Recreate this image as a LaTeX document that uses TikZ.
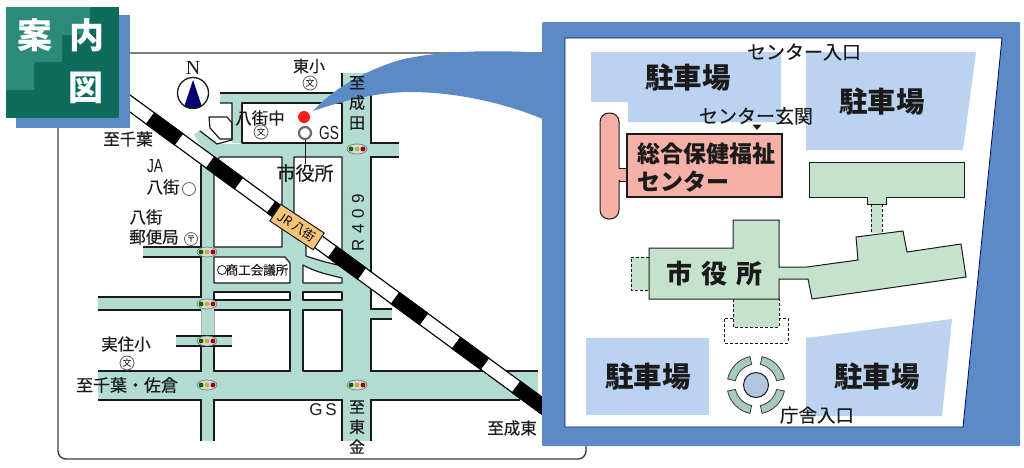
\documentclass[tikz,border=0pt]{standalone}
\usepackage{fontspec}
\usetikzlibrary{shapes.geometric}
\setmainfont{Noto Sans CJK JP}
\newfontfamily\medf[FakeBold=0.3]{Noto Sans CJK JP}
\newfontfamily\serifN{Liberation Serif}
\newfontfamily\sansL{Liberation Sans}
\definecolor{road}{HTML}{B2DCD2}
\definecolor{frameblue}{HTML}{5B8AC6}
\definecolor{park}{HTML}{BCD2F1}
\definecolor{bldg}{HTML}{C5E3CC}
\definecolor{pinkb}{HTML}{F5B0A8}
\definecolor{tdark}{HTML}{0F6B5C}
\definecolor{tlight}{HTML}{2B8A79}
\definecolor{ink}{HTML}{1A1A1A}
\definecolor{labelc}{HTML}{F5C27A}
\tikzset{
  rdedge/.style={draw=ink,line width=1.2pt},
  block/.style={draw=ink,line width=1.2pt,fill=white,line join=round},
  bld/.style={draw=ink,line width=1pt,fill=bldg,line join=miter},
  dashln/.style={draw=ink,line width=1pt,dash pattern=on 3pt off 2pt},
  t/.style={inner sep=0pt,text=ink,font=\medf\fontsize{#1}{#1}\selectfont},
  tb/.style={inner sep=0pt,text=ink,font=\fontsize{#1}{#1}\selectfont\bfseries},
  vt/.style={inner sep=0pt,text=ink,align=center,font=\medf\fontsize{#1}{20}\selectfont},
  schoolmark/.style={circle,draw=ink!70,line width=.8pt,minimum size=14pt,inner sep=0pt,font=\fontsize{9}{9}\selectfont},
}
\begin{document}
\begin{tikzpicture}[x=1pt,y=-1pt]
\useasboundingbox (0,0) rectangle (1024,467);
\fill[white] (0,0) rectangle (1024,467);
% map border
\draw[draw=ink!85,line width=1.4pt,rounded corners=8pt] (58,53) rectangle (586,459);
% roads
\fill[road] (220,93) rectangle (342,103);
\fill[road] (232,103) rectangle (242,143);
\fill[road] (342,73) rectangle (371,441);
\fill[road] (194,135) -- (200,130) -- (217,144) -- (342,143) -- (342,160) -- (214,165) -- cycle;
\fill[road] (371,143) rectangle (399,157);
\fill[road] (201,157) rectangle (342,400);
\fill[road] (201,400) rectangle (214,441);
\fill[road] (371,309) rectangle (392,319);
\fill[road] (98,371) rectangle (538,400);
\fill[road] (98,297) rectangle (201,310);
\fill[road] (143,247) rectangle (201,257);
% blocks
\draw[block] (214,170) -- (214,163) -- (220,157) -- (282,157) -- (282,247) -- (214,247) -- cycle;
\draw[block] (294,157) -- (342,157) -- (342,262) -- (294,225) -- cycle;
\draw[block] (242,103) rectangle (342,143);
\draw[block] (214,257) -- (285,257) -- (290,263) -- (290,283) -- (214,283) -- cycle;
\draw[block] (214,292) rectangle (290,300);
\draw[block] (303,292) rectangle (342,300);
\draw[block] (303,310) rectangle (342,371);
\draw[block] (303,265) .. controls (315,272) and (330,275) .. (342,278) -- (342,283) -- (303,283) -- cycle;
\draw[block] (306,235) -- (306,256) .. controls (318,260) and (328,263) .. (338,265) -- (345,260) -- cycle;
\draw[block] (209,117) -- (227,117) -- (232,123) -- (232,139) -- (220,139) -- (210,128) -- cycle;
% the block south of the small cross road
\fill[white] (214,310) rectangle (290,371);
\draw[ink!35,line width=1pt] (214,310) -- (214,336);
\draw[rdedge] (214,346) -- (214,371) -- (290,371) -- (290,310) -- (214,310);
\fill[road] (176,336) rectangle (232,346);
% road edges
\draw[rdedge] (220,93) -- (342,93);
\draw[rdedge] (342,73) -- (342,93);
\draw[rdedge] (220,103) -- (232,103) -- (232,140) -- (217,144) -- (200,131);
\draw[rdedge] (371,73) -- (371,143) -- (399,143);
\draw[rdedge] (399,157) -- (371,157) -- (371,309) -- (392,309);
\draw[rdedge] (392,319) -- (371,319) -- (371,371) -- (538,371);
\draw[rdedge] (520,400) -- (371,400) -- (371,441);
\draw[rdedge] (342,441) -- (342,400) -- (214,400) -- (214,441);
\draw[rdedge] (201,441) -- (201,400) -- (98,400);
\draw[rdedge] (98,371) -- (201,371) -- (201,346);
\draw[ink!35,line width=1pt] (201,336) -- (201,310);
\draw[rdedge] (201,310) -- (98,310);
\draw[rdedge] (98,297) -- (201,297) -- (201,257) -- (143,257);
\draw[rdedge] (143,247) -- (201,247) -- (201,165);
\draw[rdedge] (176,336) -- (232,336);
\draw[rdedge] (176,346) -- (232,346);
% rail
\draw[black,line width=15pt] (110,{103.5+0.7337*(110-130)}) -- (560,{103.5+0.7337*(560-130)});
\draw[white,line width=12.4pt] (110,{103.5+0.7337*(110-130)}) -- (560,{103.5+0.7337*(560-130)});
\foreach \a/\b in {150/179,210/239,271/300,332/362,395/424,456/485,516/560}
  \draw[black,line width=15pt] (\a,{103.5+0.7337*(\a-130)}) -- (\b,{103.5+0.7337*(\b-130)});
\node[draw=ink,line width=1pt,fill=labelc,minimum width=52pt,minimum height=20pt,inner sep=0pt,rotate=-33.5,font=\fontsize{12.5}{12.5}\selectfont] (jr) at (297,227) {JR 八街};
% signals
\foreach \x/\y [count=\i] in {357/149,207/252,207/304,207/341,207/385,357/385}{
  \node[ellipse,draw=ink!60,fill=white!85!black,line width=.7pt,minimum width=20pt,minimum height=10pt,inner sep=0pt] (sig\i) at (\x,\y) {};
  \fill[green!40!black] (\x-6,\y) circle[radius=2.4pt];
  \fill[yellow!70!black] (\x,\y) circle[radius=2.4pt];
  \fill[red!60!black] (\x+6,\y) circle[radius=2.4pt];
}
% compass
\node[inner sep=0pt,text=ink,font=\serifN\fontsize{20}{20}\selectfont] (north) at (193,68) {N};
\begin{scope}
\clip (193,93) circle[radius=15.5pt];
\fill[blue!45!black] (193,80) -- (203,110) -- (183,110) -- cycle;
\end{scope}
\draw[ink,line width=1.3pt] (193,93) circle[radius=15.5pt];
% frame and callout
\fill[frameblue] (313,111) .. controls (330,92) and (360,72) .. (400,60) .. controls (440,50) and (500,50) .. (545,53) -- (545,120) .. controls (510,105) and (460,92) .. (410,92) .. controls (380,92) and (345,100) .. cycle;
\fill[frameblue,rounded corners=1pt] (542,22) rectangle (1020,446);
\draw[fill=white,draw=blue!40!black,line width=.8pt] (565,38) -- (1002,38) -- (963,427) -- (565,427) -- cycle;
% parking
\fill[park] (591,52) -- (781,52) -- (781,122) -- (628,122) -- (628,102) -- (591,102) -- cycle;
\fill[park] (806,52) -- (976,52) -- (963,150) -- (806,150) -- cycle;
\fill[park] (586,338) rectangle (709,415);
\fill[park] (806,338) -- (952,319) -- (942,416) -- (806,416) -- cycle;
% welfare centre
\draw[fill=pinkb,draw=ink,line width=1pt,rounded corners=9pt] (600,113) rectangle (619,219);
\draw[fill=pinkb,draw=ink,line width=1pt] (619,168) rectangle (628,181);
\fill[pinkb] (617,168.6) rectangle (628,180.4);
\draw[fill=pinkb,draw=ink,line width=1.2pt] (627,134) rectangle (782,197);
\fill[ink] (752.5,124.5) -- (761.5,124.5) -- (757,130) -- cycle;
% city hall buildings
\fill[bldg] (871,204) rectangle (882,233);
\draw[dashln] (871,204) -- (871,233) (882,204) -- (882,233);
\draw[bld] (809,162) -- (964,162) -- (964,197) -- (886,197) -- (886,204) -- (867,204) -- (867,197) -- (809,197) -- cycle;
\draw[dashln,fill=bldg] (649,257) -- (631,257) -- (631,290) -- (649,290);
\draw[dashln,fill=bldg] (733,299) -- (733,327) -- (779,327) -- (779,299);
\draw[bld] (649,248) -- (733,248) -- (733,220) -- (779,220) -- (779,267) -- (807,267) -- (858,260) -- (856,237) -- (903,231) -- (907,252) -- (961,244) -- (966,277) -- (812,299) -- (808,279) -- (779,279) -- (779,299) -- (649,299) -- cycle;
\draw[dashln] (733,318) -- (724,318) -- (724,343) -- (788,343) -- (788,318) -- (779,318);
% roundabout
\begin{scope}[shift={(756,385)}]
\foreach \a in {12,102,192,282}
  \draw[fill=road!80!gray,draw=ink!85,line width=.8pt] (\a:29pt) arc[start angle=\a,delta angle=66,radius=29pt] -- (\a+66:21pt) arc[start angle=\a+66,delta angle=-66,radius=21pt] -- cycle;
\draw[fill=park!85!gray,draw=ink,line width=1pt] (0,0) circle[radius=12.5pt];
\end{scope}
% title
\fill[frameblue] (16,15) rectangle (130,128);
\fill[tdark] (6,7) rectangle (119,118);
\fill[tlight] (6,7) -- (90,7) -- (90,35) -- (62,35) -- (62,62) -- (34,62) -- (34,90) -- (6,90) -- cycle;
\node[inner sep=0pt,text=white,font=\fontsize{35}{35}\selectfont\bfseries] (t1) at (35,35) {案};
\node[inner sep=0pt,text=white,font=\fontsize{35}{35}\selectfont\bfseries] (t2) at (87,35) {内};
\node[inner sep=0pt,text=white,font=\fontsize{35}{35}\selectfont\bfseries] (t3) at (86,88) {図};
% map labels
\node[t=16] (l1) at (309,66) {東小};
\node[schoolmark] (s1) at (310,83) {文};
\node[t=16.5] (l2) at (260,118) {八街中};
\node[schoolmark] (s2) at (261,132) {文};
\fill[red!85!pink] (304,117) circle[radius=6pt];
\node[circle,draw=ink!65,line width=2.2pt,minimum size=12pt,inner sep=0pt,fill=white] (gs) at (305,133) {};
\node[inner sep=0pt,text=ink,xscale=.72,font=\sansL\fontsize{19}{19}\selectfont] (l3) at (329,133) {GS};
\node[t=19] (city) at (305,173) {市役所};
\draw[ink,line width=1pt] (gs) -- (city.north);
\node[vt=16] (l4) at (357,103) {至\\成\\田};
\node[inner sep=0pt,text=ink,rotate=90,font=\sansL\fontsize{17}{17}\selectfont] (l5) at (358,223) {R\,\,4\,\,0\,\,9};
\node[t=16.5] (l6) at (128,139) {至千葉};
\node[inner sep=0pt,text=ink,xscale=.72,font=\sansL\fontsize{19}{19}\selectfont] (l7) at (155,166) {JA};
\node[t=16.5] (l8) at (163,187) {八街};
\node[circle,draw=ink!70,line width=.8pt,minimum size=13pt,inner sep=0pt] (o1) at (189,189) {};
\node[t=16.5] (l9) at (146,217) {八街};
\node[t=16.5] (l10) at (154,237) {郵便局};
\node[schoolmark,minimum size=13pt] (s3) at (191,239) {〒};
\node[circle,draw=ink,line width=.8pt,minimum size=9pt,inner sep=0pt] (o2) at (222,270) {};
\node[t=12.5] (l11) at (257,270) {商工会議所};
\node[t=16.5] (l12) at (126,344) {実住小};
\node[schoolmark] (s4) at (127,363) {文};
\node[t=17] (l13) at (127,385) {至千葉・佐倉};
\node[inner sep=0pt,text=ink,font=\sansL\fontsize{17}{17}\selectfont] (l14) at (323,410) {G\,S};
\node[vt=16] (l15) at (357,427) {至\\東\\金};
\node[t=16.5] (l16) at (512,428) {至成東};
% plan labels
\node[t=19] (p1) at (804,52) {センター入口};
\node[t=19] (p2) at (756,116) {センター玄関};
\node[tb=28.5] (p3) at (688,78) {駐車場};
\node[tb=28.5] (p4) at (882,102) {駐車場};
\node[tb=28.5] (p5) at (648,377) {駐車場};
\node[tb=28.5] (p6) at (877,377) {駐車場};
\node[tb=23] (p7) at (706,154) {総合保健福祉};
\node[tb=23,anchor=west] (p8) at (637,182) {センター};
\node[tb=26] (p9) at (714,274) {市\hspace{9pt}役\hspace{9pt}所};
\node[t=18.5] (p10) at (817,415) {庁舎入口};
\end{tikzpicture}
\end{document}
